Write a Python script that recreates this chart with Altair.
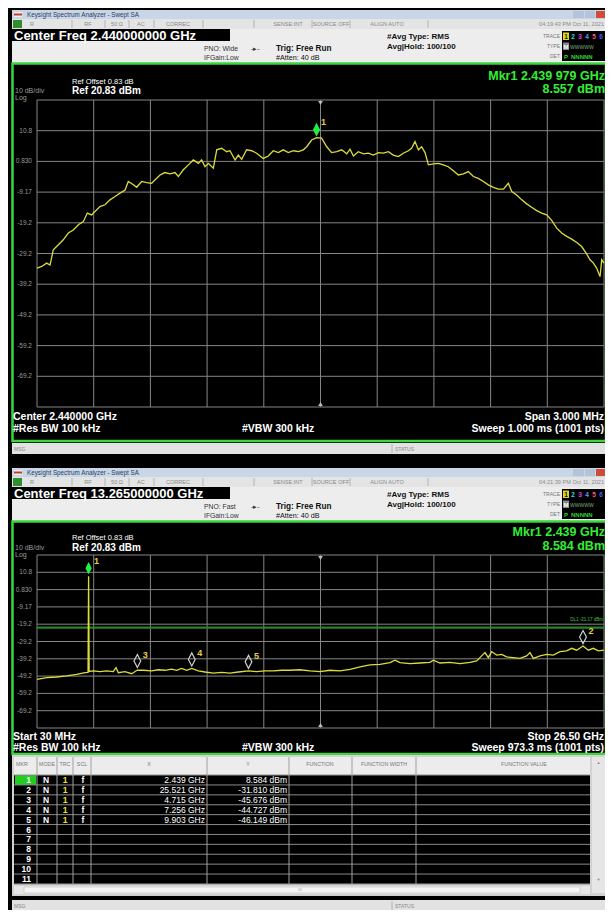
import altair as alt
import pandas as pd

FONT = "Liberation Sans"
YEL = "#dcdc3c"
GRID = "#858585"
GREEN = "#3ad63a"

# ---------------- data ----------------
# Upper screen: 3 MHz span around 2.44 GHz (frequency in MHz, level in dBm)
top_freq_mhz = [2438.500, 2438.525, 2438.551, 2438.569, 2438.586, 2438.613, 2438.639, 2438.666, 2438.692, 2438.719,
                2438.745, 2438.766, 2438.789, 2438.807, 2438.833, 2438.860, 2438.886, 2438.913, 2438.939, 2438.966,
                2438.983, 2439.010, 2439.027, 2439.054, 2439.080, 2439.107, 2439.124, 2439.151, 2439.177, 2439.204,
                2439.230, 2439.248, 2439.274, 2439.301, 2439.327, 2439.354, 2439.371, 2439.389, 2439.407, 2439.433,
                2439.451, 2439.477, 2439.504, 2439.521, 2439.548, 2439.565, 2439.583, 2439.609, 2439.636, 2439.662,
                2439.697, 2439.724, 2439.750, 2439.777, 2439.803, 2439.830, 2439.856, 2439.883, 2439.909, 2439.927,
                2439.953, 2439.979, 2440.006, 2440.033, 2440.059, 2440.086, 2440.112, 2440.139, 2440.156, 2440.174,
                2440.200, 2440.227, 2440.253, 2440.280, 2440.306, 2440.333, 2440.359, 2440.385, 2440.412, 2440.438,
                2440.465, 2440.482, 2440.500, 2440.518, 2440.535, 2440.553, 2440.571, 2440.597, 2440.624, 2440.650,
                2440.676, 2440.703, 2440.729, 2440.756, 2440.782, 2440.809, 2440.835, 2440.862, 2440.888, 2440.915,
                2440.941, 2440.968, 2440.994, 2441.012, 2441.038, 2441.065, 2441.091, 2441.117, 2441.144, 2441.170,
                2441.197, 2441.223, 2441.250, 2441.276, 2441.303, 2441.329, 2441.356, 2441.382, 2441.408, 2441.426,
                2441.444, 2441.461, 2441.479, 2441.488, 2441.500]
top_level_dbm = [-33.9, -33.4, -32.3, -32.9, -28.0, -26.3, -24.7, -22.5, -21.5, -19.8,
                 -18.8, -16.0, -16.6, -15.5, -13.9, -13.3, -11.7, -10.6, -9.5, -8.5,
                 -5.7, -6.8, -7.6, -5.7, -6.1, -6.3, -5.2, -3.6, -2.8, -3.2,
                 -2.8, -4.1, -1.9, -0.3, 1.3, 0.2, 1.3, -0.9, 0.2, -1.4,
                 4.6, 5.1, 4.0, 4.3, 1.3, 2.9, 1.5, 4.6, 4.3, 3.5,
                 1.8, 2.6, 4.3, 3.7, 4.6, 3.7, 4.3, 4.0, 4.6, 5.6,
                 7.8, 8.557, 8.4, 5.6, 3.7, 4.0, 4.6, 3.3, 4.8, 2.6,
                 4.0, 3.3, 3.5, 2.9, 3.7, 3.5, 4.0, 2.9, 2.4, 3.5,
                 4.3, 5.1, 7.3, 4.6, 5.6, 3.7, -0.3, 0.0, 0.2, -0.3,
                 -0.9, -2.2, -3.6, -3.2, -2.5, -4.1, -4.7, -5.7, -6.8, -7.6,
                 -8.2, -8.2, -6.3, -9.0, -10.1, -11.7, -13.0, -14.1, -15.2, -16.0,
                 -16.6, -18.4, -20.9, -22.5, -23.6, -24.5, -25.6, -26.9, -29.3, -31.2,
                 -32.3, -33.9, -36.7, -31.2, -32.3]
top_mkr_freq_mhz = 2439.979
top_mkr_level_dbm = 8.557

# Lower screen: 30 MHz .. 26.5 GHz (frequency in GHz, level in dBm)
bot_freq_ghz = [0.030, 0.481, 0.948, 1.415, 1.882, 2.271, 2.412, 2.439, 2.465, 2.660,
                2.971, 3.282, 3.593, 3.718, 3.827, 4.138, 4.449, 4.715, 4.994, 5.383,
                5.694, 6.005, 6.317, 6.550, 6.783, 7.017, 7.256, 7.562, 7.873, 8.262,
                8.651, 9.040, 9.429, 9.903, 10.285, 10.674, 11.063, 11.452, 11.842, 12.308,
                12.775, 13.242, 13.708, 14.175, 14.642, 15.109, 15.576, 16.043, 16.509, 16.743,
                16.976, 17.443, 17.910, 18.377, 18.532, 18.844, 19.310, 19.777, 20.244, 20.555,
                20.789, 20.944, 21.100, 21.256, 21.489, 21.722, 21.956, 22.267, 22.578, 22.889,
                23.045, 23.201, 23.512, 23.823, 24.134, 24.446, 24.757, 24.990, 25.224, 25.521,
                25.768, 26.002, 26.235, 26.500]
bot_level_dbm = [-51.1, -50.1, -49.7, -49.1, -48.2, -47.2, -47.0, 8.584, -46.5, -46.2,
                 -46.6, -46.2, -46.6, -44.3, -47.2, -46.6, -47.8, -45.676, -45.8, -46.2,
                 -45.5, -45.8, -45.1, -45.8, -44.7, -45.8, -44.727, -46.2, -46.8, -47.4,
                 -47.0, -47.4, -46.8, -46.149, -46.6, -46.2, -46.2, -45.8, -45.8, -45.5,
                 -46.2, -46.6, -45.8, -46.2, -45.3, -43.9, -42.7, -42.4, -41.4, -40.0,
                 -41.4, -42.0, -41.6, -41.2, -40.0, -41.6, -41.2, -42.0, -41.2, -40.4,
                 -37.5, -35.6, -38.5, -35.0, -37.0, -36.6, -38.1, -38.5, -38.9, -37.5,
                 -35.6, -38.9, -37.5, -36.6, -37.0, -35.0, -34.6, -33.1, -34.2, -31.81,
                 -34.2, -33.1, -34.6, -34.2]
mkr_no = [1, 2, 3, 4, 5]
mkr_x_ghz = [2.439, 25.521, 4.715, 7.256, 9.903]
mkr_y_dbm = [8.584, -31.810, -45.676, -44.727, -46.149]
display_line_dbm = -21.17

level_grid = [20.83, 10.83, 0.83, -9.17, -19.17, -29.17, -39.17, -49.17, -59.17, -69.17, -79.17]
level_labels = ["", "10.8", "0.830", "-9.17", "-19.2", "-29.2", "-39.2", "-49.2", "-59.2", "-69.2", ""]
top_freq_grid = [2438.5, 2438.8, 2439.1, 2439.4, 2439.7, 2440.0, 2440.3, 2440.6, 2440.9, 2441.2, 2441.5]
bot_freq_grid = [0.03, 2.677, 5.324, 7.971, 10.618, 13.265, 15.912, 18.559, 21.206, 23.853, 26.5]
table_rows = list(range(1, 12))


# ---------------- helpers ----------------
def px(v):
    return v - 8


def T(s, x, y, size, color="white", weight="normal", align="left", font=FONT):
    return alt.Chart(alt.Data(values=[{"t": s}])).mark_text(
        align=align, baseline="middle", fontSize=size, color=color,
        fontWeight=weight, font=font
    ).encode(x=alt.value(px(x)), y=alt.value(px(y)), text="t:N")


def R(x1, y1, x2, y2, fill, stroke=None, sw=1):
    props = dict(fill=fill)
    if stroke is not None:
        props.update(stroke=stroke, strokeWidth=sw)
    return alt.Chart(alt.Data(values=[{"k": 0}])).mark_rect(**props).encode(
        x=alt.value(px(x1)), x2=alt.value(px(x2)), y=alt.value(px(y1)), y2=alt.value(px(y2)))


def VL(x, y1, y2, color, w=1):
    return alt.Chart(alt.Data(values=[{"k": 0}])).mark_rule(color=color, strokeWidth=w).encode(
        x=alt.value(px(x)), y=alt.value(px(y1)), y2=alt.value(px(y2)))


def sc(domain, r0, r1):
    return alt.Scale(domain=domain, range=[px(r0), px(r1)], nice=False, zero=False)


def chrome(dy, cf, time_s, pno, screen_bottom):
    L = []
    # title bar
    L.append(R(12, 10 + dy, 607, 19 + dy, "#c8d6e8"))
    L.append(R(14, 12 + dy, 22, 17 + dy, "#eeeeee"))
    L.append(R(14, 13.5 + dy, 22, 15.5 + dy, "#c8392b"))
    L.append(T("Keysight Spectrum Analyzer - Swept SA", 27, 14.5 + dy, 6.3, "#2b3d5c"))
    L.append(R(573, 11 + dy, 584, 18 + dy, "#b3c4da"))
    L.append(R(585, 11 + dy, 595, 18 + dy, "#b3c4da"))
    L.append(R(596, 11 + dy, 607, 18 + dy, "#cf4b38"))
    # status row
    L.append(R(12, 19 + dy, 607, 29 + dy, "#e4e4e4"))
    L.append(R(13, 20 + dy, 22, 28 + dy, "#2f8f2f"))
    for sx in [72, 105, 129, 154, 203, 254, 312, 350, 428]:
        L.append(VL(sx, 20 + dy, 28 + dy, "#b4b4b4"))
    for s, x, a in [("R", 30, "left"), ("RF", 88, "center"), ("50 Ω", 117, "center"),
                    ("AC", 141, "center"), ("CORREC", 178, "center"), ("SENSE:INT", 288, "center"),
                    ("SOURCE OFF", 331, "center"), ("ALIGN AUTO", 387, "center"), (time_s, 604, "right")]:
        L.append(T(s, x, 24 + dy, 5.6, "#8a8a8a", align=a))
    # info area
    L.append(R(12, 29 + dy, 607, 63 + dy, "#ededed"))
    L.append(R(12, 29 + dy, 230, 41 + dy, "black"))
    L.append(T(cf, 14, 35.5 + dy, 13, "white", "bold"))
    L.append(T(pno, 204, 49 + dy, 6.8, "#333333"))
    L.append(T("IFGain:Low", 204, 58 + dy, 6.8, "#333333"))
    L.append(T("-▸-", 251, 49 + dy, 7, "#333333"))
    L.append(T("Trig: Free Run", 276, 48.5 + dy, 8.2, "#111111", "bold"))
    L.append(T("#Atten: 40 dB", 276, 58 + dy, 7.2, "#111111"))
    L.append(T("#Avg Type: RMS", 387, 37 + dy, 8, "#111111", "bold"))
    L.append(T("Avg|Hold: 100/100", 387, 46.5 + dy, 8, "#111111", "bold"))
    for s, yy in [("TRACE", 36), ("TYPE", 46), ("DET", 56)]:
        L.append(T(s, 560, yy + dy, 5, "#777777", align="right"))
    L.append(R(562, 31 + dy, 606, 61 + dy, "black"))
    L.append(R(563, 32.5 + dy, 569, 40 + dy, "#e0d820"))
    for i, c in enumerate(["#111111", "#2ad8e8", "#e040e0", "#7a8cff", "#ff5a7a", "#4a5aff"]):
        L.append(T(str(i + 1), 566 + 7 * i, 36.5 + dy, 6.5, c, "bold", align="center"))
    L.append(R(563, 42.5 + dy, 569, 50 + dy, "#8a8a8a"))
    L.append(T("M", 566, 46.5 + dy, 6, "white", "bold", align="center"))
    L.append(T("WWWWW", 570, 46.5 + dy, 5, "#7fb07f"))
    L.append(T("P", 566, 56.5 + dy, 6, "#35d035", "bold", align="center"))
    L.append(T("NNNNN", 571, 56.5 + dy, 6, "#35d035", "bold"))
    # screen
    L.append(R(12.5, 63.5 + dy, 606, screen_bottom, "black", GREEN, 2.5))
    return L


def plot_panel(xs, ys, xgrid, x0, y0, x1, y1, center):
    L = []
    L.append(alt.Chart(pd.DataFrame({"g": xgrid})).mark_rule(color=GRID, strokeWidth=1).encode(
        x=alt.X("g:Q", scale=xs, axis=None), y=alt.value(px(y0)), y2=alt.value(px(y1))))
    L.append(alt.Chart(pd.DataFrame({"g": level_grid})).mark_rule(color=GRID, strokeWidth=1).encode(
        y=alt.Y("g:Q", scale=ys, axis=None), x=alt.value(px(x0)), x2=alt.value(px(x1))))
    L.append(alt.Chart(pd.DataFrame({"g": level_grid, "t": level_labels})).mark_text(
        align="right", baseline="middle", fontSize=6.5, color="#9a9a9a", font=FONT).encode(
        y=alt.Y("g:Q", scale=ys, axis=None), x=alt.value(px(32)), text="t:N"))
    L.append(alt.Chart(pd.DataFrame({"f": [center], "v": [level_grid[0]]})).mark_point(
        shape="triangle-down", filled=True, color="#bbbbbb", size=22, yOffset=3, opacity=1).encode(
        x=alt.X("f:Q", scale=xs, axis=None), y=alt.Y("v:Q", scale=ys, axis=None)))
    L.append(alt.Chart(pd.DataFrame({"f": [center], "v": [level_grid[-1]]})).mark_point(
        shape="triangle-up", filled=True, color="#bbbbbb", size=22, yOffset=-3, opacity=1).encode(
        x=alt.X("f:Q", scale=xs, axis=None), y=alt.Y("v:Q", scale=ys, axis=None)))
    return L


def trace(xs, ys, fr, lv):
    return alt.Chart(pd.DataFrame({"f": fr, "v": lv})).mark_line(
        color=YEL, strokeWidth=1.3, interpolate="linear").encode(
        x=alt.X("f:Q", scale=xs, axis=None), y=alt.Y("v:Q", scale=ys, axis=None))


DIAMOND = "M0,-1L0.52,0L0,1L-0.52,0Z"

layers = []

# ================= upper analyzer window =================
layers += chrome(0, "Center Freq 2.440000000 GHz", "04:19:43 PM Oct 11, 2021", "PNO: Wide", 441)
top_xs = sc([2438.5, 2441.5], 37, 604)
top_ys = sc([-79.17, 20.83], 407, 100)
layers += plot_panel(top_xs, top_ys, top_freq_grid, 37, 100, 604, 407, 2440.0)
layers.append(trace(top_xs, top_ys, top_freq_mhz, top_level_dbm))
tm = pd.DataFrame({"f": [top_mkr_freq_mhz], "v": [top_mkr_level_dbm], "n": ["1"]})
layers.append(alt.Chart(tm).mark_point(shape=DIAMOND, filled=True, color="#22ee44", size=190,
                                       yOffset=-8, opacity=1).encode(
    x=alt.X("f:Q", scale=top_xs, axis=None), y=alt.Y("v:Q", scale=top_ys, axis=None)))
layers.append(alt.Chart(tm).mark_text(dx=7, dy=-16, color="#e6c840", fontSize=9, fontWeight="bold",
                                      font=FONT).encode(
    x=alt.X("f:Q", scale=top_xs, axis=None), y=alt.Y("v:Q", scale=top_ys, axis=None), text="n:N"))
mk = f"{top_mkr_freq_mhz / 1000:.6f}"
layers.append(T(f"Mkr1 {mk[:5]} {mk[5:]} GHz", 605, 75.5, 12.5, "#33ee33", "bold", align="right"))
layers.append(T(f"{top_mkr_level_dbm:.3f} dBm", 605, 89, 12.5, "#33ee33", "bold", align="right"))
layers.append(T("Ref Offset 0.83 dB", 72, 81.5, 7.5, "white"))
layers.append(T("Ref 20.83 dBm", 72, 91, 10, "white", "bold"))
layers.append(T("10 dB/div", 15, 91, 7, "#9a9a9a"))
layers.append(T("Log", 15, 97.5, 7, "#9a9a9a"))
layers.append(T("Center 2.440000 GHz", 13, 417, 10.5, "white", "bold"))
layers.append(T("#Res BW 100 kHz", 13, 429, 10.5, "white", "bold"))
layers.append(T("#VBW 300 kHz", 242, 429, 10.5, "white", "bold"))
layers.append(T("Span 3.000 MHz", 604, 417, 10.5, "white", "bold", align="right"))
layers.append(T("Sweep  1.000 ms (1001 pts)", 604, 429, 10.5, "white", "bold", align="right"))
layers.append(R(12, 443, 607, 454, "#e2e2e2"))
layers.append(VL(392, 444, 453, "#b0b0b0"))
layers.append(T("MSG", 14, 448.5, 5, "#888888"))
layers.append(T("STATUS", 395, 448.5, 5, "#888888"))

# ================= lower analyzer window =================
layers += chrome(458, "Center Freq 13.265000000 GHz", "04:21:39 PM Oct 11, 2021", "PNO: Fast", 754)
bot_xs = sc([0.03, 26.5], 37, 604)
bot_ys = sc([-79.17, 20.83], 728, 555)
layers += plot_panel(bot_xs, bot_ys, bot_freq_grid, 37, 555, 604, 728, 13.265)
layers.append(alt.Chart(pd.DataFrame({"v": [display_line_dbm]})).mark_rule(
    color="#2a8a2a", strokeWidth=2.2, opacity=0.95).encode(
    y=alt.Y("v:Q", scale=bot_ys, axis=None), x=alt.value(px(37)), x2=alt.value(px(604))))
layers.append(T(f"DL1 {display_line_dbm:.2f} dBm", 603, 620, 4.5, "#45c845", align="right"))
layers.append(trace(bot_xs, bot_ys, bot_freq_ghz, bot_level_dbm))
mdf = pd.DataFrame({"n": [str(n) for n in mkr_no], "f": mkr_x_ghz, "v": mkr_y_dbm})
layers.append(alt.Chart(mdf.iloc[:1]).mark_point(shape=DIAMOND, filled=True, color="#22ee44", size=150,
                                                 yOffset=-8, opacity=1).encode(
    x=alt.X("f:Q", scale=bot_xs, axis=None), y=alt.Y("v:Q", scale=bot_ys, axis=None)))
layers.append(alt.Chart(mdf.iloc[1:]).mark_point(shape=DIAMOND, filled=False, color="#d0d0d0", size=170,
                                                 strokeWidth=1.2, yOffset=-9, opacity=1).encode(
    x=alt.X("f:Q", scale=bot_xs, axis=None), y=alt.Y("v:Q", scale=bot_ys, axis=None)))
layers.append(alt.Chart(mdf).mark_text(dx=8, dy=-15, color="#e6d040", fontSize=9, fontWeight="bold",
                                       font=FONT).encode(
    x=alt.X("f:Q", scale=bot_xs, axis=None), y=alt.Y("v:Q", scale=bot_ys, axis=None), text="n:N"))
layers.append(T(f"Mkr1 {mkr_x_ghz[0]:.3f} GHz", 605, 532, 12.5, "#33ee33", "bold", align="right"))
layers.append(T(f"{mkr_y_dbm[0]:.3f} dBm", 605, 545.5, 12.5, "#33ee33", "bold", align="right"))
layers.append(T("Ref Offset 0.83 dB", 72, 537.5, 7.5, "white"))
layers.append(T("Ref 20.83 dBm", 72, 547.5, 10, "white", "bold"))
layers.append(T("10 dB/div", 15, 548, 7, "#9a9a9a"))
layers.append(T("Log", 15, 554.5, 7, "#9a9a9a"))
layers.append(T("Start 30 MHz", 13, 737, 10.5, "white", "bold"))
layers.append(T("#Res BW 100 kHz", 13, 748, 10.5, "white", "bold"))
layers.append(T("#VBW 300 kHz", 242, 748, 10.5, "white", "bold"))
layers.append(T("Stop 26.50 GHz", 604, 737, 10.5, "white", "bold", align="right"))
layers.append(T("Sweep  973.3 ms (1001 pts)", 604, 748, 10.5, "white", "bold", align="right"))

# ---- marker table ----
row_s = sc([1, 11], 780, 879)
layers.append(R(12, 755, 607, 896, "#d2d2d2"))
layers.append(R(14, 757, 590, 775, "#ececec"))
layers.append(alt.Chart(pd.DataFrame({"a": [0.5], "b": [11.5]})).mark_rect(fill="black").encode(
    y=alt.Y("a:Q", scale=row_s, axis=None), y2="b:Q", x=alt.value(px(14)), x2=alt.value(px(590))))
layers.append(alt.Chart(pd.DataFrame({"a": [0.5], "b": [1.5]})).mark_rect(fill="#22cc22").encode(
    y=alt.Y("a:Q", scale=row_s, axis=None), y2="b:Q", x=alt.value(px(15)), x2=alt.value(px(36))))
layers.append(alt.Chart(pd.DataFrame({"b": [r + 0.5 for r in range(0, 12)]})).mark_rule(
    color="#8a8a8a", strokeWidth=1).encode(
    y=alt.Y("b:Q", scale=row_s, axis=None), x=alt.value(px(14)), x2=alt.value(px(590))))
for cx in [37, 57, 73, 91, 207, 289, 352, 416]:
    layers.append(VL(cx, 757, 885, "#a0a0a0"))
for s, cx in [("MKR", 22), ("MODE", 47), ("TRC", 65), ("SCL", 82), ("X", 149), ("Y", 248),
              ("FUNCTION", 320), ("FUNCTION WIDTH", 384), ("FUNCTION VALUE", 524)]:
    layers.append(T(s, cx, 764, 5.3, "#777777", align="center"))
tab = pd.DataFrame({"row": table_rows, "mkr": [str(r) for r in table_rows]})
layers.append(alt.Chart(tab).mark_text(align="right", baseline="middle", fontSize=8.5, fontWeight="bold",
                                       color="white", font=FONT).encode(
    y=alt.Y("row:Q", scale=row_s, axis=None), x=alt.value(px(31)), text="mkr:N"))
mt = pd.DataFrame({
    "row": mkr_no,
    "mode": ["N"] * len(mkr_no),
    "trc": ["1"] * len(mkr_no),
    "scl": ["f"] * len(mkr_no),
    "xs": [f"{v:.3f} GHz" for v in mkr_x_ghz],
    "ys": [f"{v:.3f} dBm" for v in mkr_y_dbm],
})
for col, xx, al, colr, wt in [("mode", 46, "center", "white", "bold"), ("trc", 65, "center", "#f0e040", "bold"),
                              ("scl", 83, "center", "white", "bold"), ("xs", 205, "right", "white", "normal"),
                              ("ys", 287, "right", "white", "normal")]:
    layers.append(alt.Chart(mt).mark_text(align=al, baseline="middle", fontSize=8.5, fontWeight=wt,
                                          color=colr, font=FONT).encode(
        y=alt.Y("row:Q", scale=row_s, axis=None), x=alt.value(px(xx)), text=f"{col}:N"))
layers.append(R(592, 757, 605, 893, "#e6e6e6"))
layers.append(T("▲", 598.5, 763, 4, "#888888", align="center"))
layers.append(T("▼", 598.5, 880, 4, "#888888", align="center"))
layers.append(R(14, 886, 590, 894, "#e6e6e6"))
layers.append(R(24, 887, 580, 893, "#f4f4f4", "#c0c0c0", 0.6))
layers.append(T("III", 300, 890, 4, "#999999", align="center"))
layers.append(R(12, 900, 607, 912, "#e2e2e2"))
layers.append(VL(392, 901, 911, "#b0b0b0"))
layers.append(T("MSG", 14, 906, 5, "#888888"))
layers.append(T("STATUS", 395, 906, 5, "#888888"))

chart = alt.layer(*layers).properties(
    width=597, height=902, background="black",
    autosize=alt.AutoSizeParams(type="none"), padding=0
).resolve_scale(x="independent", y="independent").configure_view(stroke=None)

chart.save("out.html", embed_options={"renderer": "svg", "actions": False})
